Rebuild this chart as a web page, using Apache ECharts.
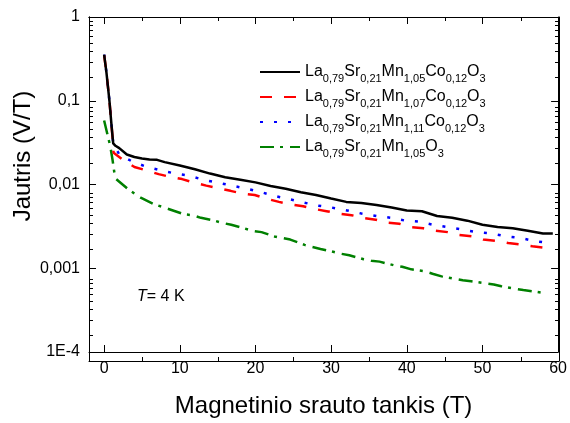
<!DOCTYPE html>
<html>
<head>
<meta charset="utf-8">
<script src="https://cdn.jsdelivr.net/npm/echarts@6/dist/echarts.min.js"></script>
<style>
  html, body { margin: 0; padding: 0; background: #fff; }
  #chart { width: 570px; height: 423px; }
</style>
</head>
<body>
<div id="chart"></div>
<script>
// Field-derivative curves (V/T) versus magnetic flux density (T), four samples at T = 4 K.
const names = [
  'La_{0,79}Sr_{0,21}Mn_{1,05}Co_{0,12}O_{3}',
  'La_{0,79}Sr_{0,21}Mn_{1,07}Co_{0,12}O_{3}',
  'La_{0,79}Sr_{0,21}Mn_{1,11}Co_{0,12}O_{3}',
  'La_{0,79}Sr_{0,21}Mn_{1,05}O_{3}'
];

const fieldA = [0, 0.3, 0.7, 1.0, 1.2, 1.5, 2, 3, 4, 5, 6, 7, 8, 10, 12, 14, 16, 18, 20, 22, 24, 26, 28, 30,
  32, 34, 36, 38, 40, 42, 44, 46, 48, 50, 52, 54, 56, 58, 59.3];
const valueA = [0.355, 0.22, 0.1, 0.048, 0.031, 0.029, 0.0272, 0.0228, 0.0213, 0.0204, 0.0199, 0.0197, 0.0185,
  0.0169, 0.0152, 0.0135, 0.0122, 0.0114, 0.0106, 0.0096, 0.0089, 0.0081, 0.0075, 0.0068, 0.0062, 0.0060,
  0.0057, 0.0053, 0.0049, 0.0048, 0.0042, 0.0040, 0.0037, 0.0033, 0.0031, 0.0030, 0.0028, 0.0026, 0.0026];

const fieldB = [0, 0.3, 0.7, 1.0, 1.15, 1.25, 2.4, 4, 5.5, 7.2, 8.6, 10.3, 11.8, 13.5, 15, 16.7, 18.2, 19.9,
  21.4, 23.1, 24.6, 26.3, 27.8, 29.4, 31, 32.7, 34.2, 35.9, 37.4, 39, 40.6, 42.2, 43.8, 45.4, 46.9, 48.7,
  50.1, 51.8, 53.4, 55, 56.6, 58.2, 59.3];
const valueB = [0.35, 0.22, 0.1, 0.048, 0.033, 0.024, 0.0199, 0.0162, 0.0148, 0.0133, 0.0124, 0.0116, 0.0106,
  0.0097, 0.0091, 0.0084, 0.0078, 0.0075, 0.0068, 0.0062, 0.0058, 0.0055, 0.0051, 0.0048, 0.0045, 0.0043,
  0.0040, 0.0038, 0.0035, 0.0034, 0.0031, 0.0030, 0.0028, 0.0027, 0.0025, 0.0024, 0.0022, 0.00213, 0.0020,
  0.00192, 0.00183, 0.00176, 0.0017];

const fieldC = [0, 0.3, 0.7, 1.0, 1.2, 2.0, 3.77, 5.67, 7.66, 9.42, 11.27, 13.1, 15, 16.9, 18.85, 20.75, 22.5,
  24.4, 26.35, 28.2, 30.1, 32.1, 34, 36, 37.95, 39.8, 41.7, 43.5, 45.4, 47.3, 49.3, 51.2, 53.2, 55.05, 57, 58.9];
const valueC = [0.355, 0.22, 0.1, 0.048, 0.031, 0.0228, 0.0187, 0.0162, 0.0146, 0.0135, 0.0127, 0.0114, 0.0105,
  0.0097, 0.0089, 0.0081, 0.0073, 0.0067, 0.0061, 0.0056, 0.0053, 0.0049, 0.0045, 0.0042, 0.0040, 0.0037,
  0.0036, 0.0033, 0.0031, 0.0029, 0.0027, 0.0026, 0.0024, 0.0023, 0.0021, 0.0020];

const fieldD = [0, 0.4, 0.8, 1.1, 1.35, 1.6, 3.1, 4.0, 4.9, 6.6, 7.7, 8.8, 10.6, 11.7, 12.8, 14.6, 15.5, 16.8,
  18.5, 19.6, 20.8, 22.5, 23.5, 24.6, 26.5, 27.5, 28.6, 30.4, 31.3, 32.4, 34.3, 35.3, 36.4, 38.4, 39.4, 40.6,
  42.4, 43.4, 44.6, 46.3, 47.4, 48.5, 50.4, 51.5, 52.5, 54.3, 55.4, 56.7, 58.5];
const valueD = [0.058, 0.041, 0.029, 0.020, 0.0139, 0.0116, 0.0089, 0.0078, 0.0069, 0.0058, 0.0054, 0.0050,
  0.0044, 0.0043, 0.0040, 0.0037, 0.0035, 0.0033, 0.0030, 0.0028, 0.0027, 0.0024, 0.0023, 0.0022, 0.0019,
  0.0018, 0.0017, 0.00156, 0.00149, 0.00143, 0.00128, 0.00123, 0.0012, 0.00108, 0.00104, 0.00097, 0.00092,
  0.00086, 0.0008, 0.00075, 0.00072, 0.0007, 0.00066, 0.00064, 0.00061, 0.00057, 0.00055, 0.00053, 0.0005];

// Axis tick positions and labels
const xMajorTicks = [0, 10, 20, 30, 40, 50, 60];
const xMinorTicks = [5, 15, 25, 35, 45, 55];
const yDecadeLabels = { '0': '1', '-1': '0,1', '-2': '0,01', '-3': '0,001', '-4': '1E-4' };
const yMinorMultipliers = [2, 3, 4, 5, 6, 7, 8, 9];
const yDecades = [-4, -3, -2, -1];

const FONT = '"Liberation Sans", Arial, Helvetica, sans-serif';
const INK = '#000';

// Minor log ticks live on a companion linear axis expressed in decades
const yMinorLog = [];
yDecades.forEach(d => yMinorMultipliers.forEach(m => yMinorLog.push(d + Math.log10(m))));

const styles = [
  { color: '#000000', type: 'solid' },
  { color: '#ff0000', type: [12, 12] },
  { color: '#0000ff', type: [3, 11] },
  { color: '#008000', type: [14, 6, 3, 7] }
];

const fields = [fieldA, fieldB, fieldC, fieldD];
const values = [valueA, valueB, valueC, valueD];

const gridBox = { left: 89, right: 11, top: 17, bottom: 62 };

function frameX(gridIndex, position, ticks, len, labels) {
  return {
    type: 'value', gridIndex, position, min: -2, max: 60,
    axisLine: { show: true, onZero: false, lineStyle: { color: INK, width: 1 } },
    axisTick: { show: true, inside: true, length: len, customValues: ticks, lineStyle: { color: INK, width: 1 } },
    axisLabel: labels ? {
      show: true, customValues: ticks, margin: 9, fontSize: 16, color: INK, fontFamily: FONT
    } : { show: false },
    splitLine: { show: false }
  };
}

function frameYMinor(gridIndex, position) {
  return {
    type: 'value', gridIndex, position, min: -4, max: 0,
    axisLine: { show: true, onZero: false, lineStyle: { color: INK, width: 1 } },
    axisTick: { show: true, inside: true, length: 4, customValues: yMinorLog, lineStyle: { color: INK, width: 1 } },
    axisLabel: { show: false },
    splitLine: { show: false }
  };
}

function frameYLog(gridIndex, position, labels) {
  return {
    type: 'log', logBase: 10, gridIndex, position, min: 1e-4, max: 1,
    axisLine: { show: true, onZero: false, lineStyle: { color: INK, width: 1 } },
    axisTick: { show: true, inside: true, length: 7, lineStyle: { color: INK, width: 1 } },
    axisLabel: labels ? {
      show: true, margin: 9, fontSize: 16, color: INK, fontFamily: FONT,
      formatter: v => yDecadeLabels[String(Math.round(Math.log10(v)))] || ''
    } : { show: false },
    splitLine: { show: false }
  };
}

const xBottom = frameX(0, 'bottom', xMajorTicks, 7, true);
xBottom.name = 'Magnetinio srauto tankis (T)';
xBottom.nameLocation = 'middle';
xBottom.nameGap = 42;
xBottom.nameTextStyle = { fontSize: 24, color: INK, fontFamily: FONT };

const option = {
  animation: false,
  backgroundColor: '#fff',
  grid: [
    Object.assign({}, gridBox),
    Object.assign({}, gridBox)
  ],
  xAxis: [
    xBottom,
    frameX(0, 'top', xMajorTicks, 7, false),
    frameX(1, 'bottom', xMinorTicks, 4, false),
    frameX(1, 'top', xMinorTicks, 4, false)
  ],
  yAxis: [
    frameYLog(0, 'left', true),
    frameYLog(0, 'right', false),
    frameYMinor(1, 'left'),
    frameYMinor(1, 'right')
  ],
  legend: {
    orient: 'vertical',
    left: 259, top: 64, padding: 0,
    itemWidth: 40, itemHeight: 14, itemGap: 5,
    selectedMode: false,
    itemStyle: { opacity: 0 },
    formatter: n => n.replace(/([A-Za-z]+)_\{([^}]*)\}/g, '{m|$1}{s|$2}'),
    textStyle: {
      fontFamily: FONT, color: INK, fontSize: 16,
      rich: {
        m: { fontSize: 16, lineHeight: 24, color: INK, fontFamily: FONT },
        s: { fontSize: 11, lineHeight: 7, verticalAlign: 'bottom', color: INK, fontFamily: FONT }
      }
    },
    data: names
  },
  graphic: [
    {
      type: 'text', x: 23, y: 156, rotation: Math.PI / 2,
      style: { text: 'Jautris (V/T)', fontSize: 24, fontFamily: FONT, fill: INK, align: 'center', verticalAlign: 'middle' }
    },
    {
      type: 'text', x: 137, y: 297,
      style: {
        text: '{i|T}= 4 K', fontSize: 16, fontFamily: FONT, fill: INK, verticalAlign: 'middle',
        rich: { i: { fontStyle: 'italic', fontSize: 16, fontFamily: FONT, fill: INK } }
      }
    }
  ],
  series: names.map((name, k) => ({
    name,
    type: 'line',
    xAxisIndex: 0,
    yAxisIndex: 0,
    symbol: 'none',
    showSymbol: false,
    smooth: false,
    color: styles[k].color,
    lineStyle: { color: styles[k].color, width: 2.5, type: styles[k].type },
    data: fields[k].map((x, i) => [x, values[k][i]]),
    z: 10 - k
  }))
};

const chart = echarts.init(document.getElementById('chart'), null, { renderer: 'canvas' });
chart.setOption(option);
</script>
</body>
</html>
